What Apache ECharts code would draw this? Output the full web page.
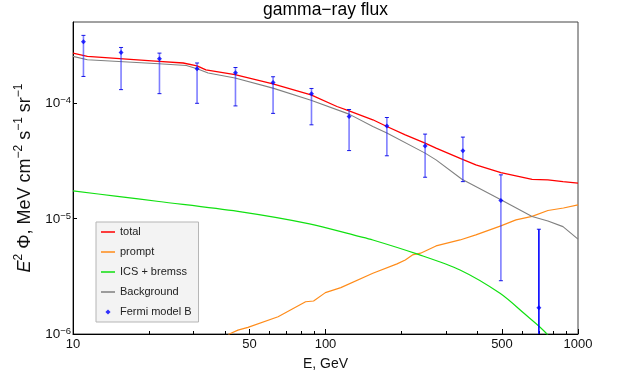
<!DOCTYPE html>
<html>
<head>
<meta charset="utf-8">
<script src="https://cdn.jsdelivr.net/npm/echarts@6/dist/echarts.min.js"></script>
<style>html,body{margin:0;padding:0;background:#fff}#c{width:622px;height:383px}</style>
</head>
<body>
<div id="c"></div>
<script>
// ---- data ----
const xLabelValues = [10, 50, 100, 500, 1000];
const xMinorTicks = [20, 30, 40, 60, 70, 80, 90, 200, 300, 400, 600, 700, 800, 900];
const yLabelValues = [1e-6, 1e-5, 1e-4];

const totalE = [10, 11.4, 21.9, 27.3, 31, 33.6, 43.8, 61.9, 87.6, 111, 124, 154, 175, 207, 248, 274, 347, 394, 495, 658, 760, 872, 1000];
const totalV = [2.69e-4, 2.52e-4, 2.28e-4, 2.21e-4, 2.09e-4, 1.93e-4, 1.75e-4, 1.46e-4, 1.17e-4, 9.29e-5, 8.53e-5, 7.13e-5, 6.24e-5, 5.28e-5, 4.48e-5, 4.05e-5, 3.26e-5, 2.90e-5, 2.49e-5, 2.18e-5, 2.15e-5, 2.08e-5, 2.02e-5];

const promptE = [40, 41.6, 45, 49.3, 64.9, 83.4, 89.7, 99.9, 115, 154, 192, 207, 221, 238, 274, 341, 394, 495, 568, 658, 760, 876, 1000];
const promptV = [9e-7, 1.0e-6, 1.08e-6, 1.14e-6, 1.41e-6, 1.90e-6, 1.93e-6, 2.28e-6, 2.52e-6, 3.35e-6, 4.04e-6, 4.37e-6, 4.83e-6, 5.00e-6, 5.78e-6, 6.51e-6, 7.20e-6, 8.61e-6, 9.70e-6, 1.04e-5, 1.17e-5, 1.23e-5, 1.31e-5];

const icsE = [10, 15, 21.9, 45, 86.4, 133, 154, 230, 341, 491, 611, 753, 850, 1000];
const icsV = [1.73e-5, 1.55e-5, 1.40e-5, 1.15e-5, 8.97e-6, 7.06e-6, 6.51e-6, 4.93e-6, 3.58e-6, 2.25e-6, 1.51e-6, 1.0e-6, 6.5e-7, 2.5e-7];

const bgE = [10, 11.4, 21.9, 28.1, 31, 34.3, 43.8, 61.9, 87.6, 124, 154, 175, 248, 274, 347, 495, 658, 760, 872, 1000];
const bgV = [2.52e-4, 2.36e-4, 2.18e-4, 2.10e-4, 1.97e-4, 1.81e-4, 1.64e-4, 1.34e-4, 1.05e-4, 7.98e-5, 6.24e-5, 5.47e-5, 3.67e-5, 3.21e-5, 2.18e-5, 1.45e-5, 1.04e-5, 9.5e-6, 8.49e-6, 6.61e-6];

const fermiE  = [11, 15.5, 22, 31, 44, 62, 88, 124, 175, 248, 350, 495, 700];
const fermiV  = [3.37e-4, 2.73e-4, 2.40e-4, 1.97e-4, 1.82e-4, 1.50e-4, 1.20e-4, 7.6e-5, 6.3e-5, 4.24e-5, 3.84e-5, 1.43e-5, 1.69e-6];
const fermiHi = [3.83e-4, 3.01e-4, 2.69e-4, 2.21e-4, 2.02e-4, 1.68e-4, 1.33e-4, 8.75e-5, 7.46e-5, 5.36e-5, 5.05e-5, 2.38e-5, 8.06e-6];
const fermiLo = [1.69e-4, 1.30e-4, 1.20e-4, 9.9e-5, 9.4e-5, 8.1e-5, 6.45e-5, 3.86e-5, 3.48e-5, 2.27e-5, 2.08e-5, 2.89e-6, 1e-7];

const Y_MIN = 1e-6, Y_MAX = 5e-4;
// ---- chart ----
const FONT = 'Liberation Sans, Arial, sans-serif';
const LINE_ICON = 'path://M0,0H14V0.01H0ZM0,2.35H14V3.65H0ZM0,5.99H14V6H0Z';
const DIAMOND_ICON = 'path://M0,0H0.01V0.01H0ZM13.99,5.99H14V6H13.99ZM7,0.4L9.6,3L7,5.6L4.4,3Z';
const zip = (a, b) => a.map((v, i) => [v, b[i]]);
const chart = echarts.init(document.getElementById('c'), null, {renderer: 'canvas'});

function lineSeries(name, E, V, color, w, smooth) {
  return {
    name, type: 'line', data: zip(E, V), symbol: 'none', showSymbol: false, smooth: smooth || false,
    clip: true, lineStyle: {color, width: w}, itemStyle: {color}, silent: true, z: 2
  };
}

const option = {
  animation: false,
  backgroundColor: '#fff',
  textStyle: {fontFamily: FONT},
  title: {
    text: 'gamma\u2212ray flux', left: 325.5, textAlign: 'center', top: 1, padding: 0,
    textStyle: {fontSize: 17.5, fontWeight: 'normal', color: '#000', fontFamily: FONT}
  },
  grid: {left: 73, right: 44, top: 22, bottom: 49, show: true, borderColor: '#444', borderWidth: 1, backgroundColor: 'transparent'},
  legend: {
    orient: 'vertical', left: 96, top: 222,
    padding: [3, 7, 3, 5], itemGap: 6, itemWidth: 14, itemHeight: 6,
    backgroundColor: '#f3f3f3', borderColor: '#b5b5b5', borderWidth: 1,
    textStyle: {fontSize: 11, color: '#222', fontFamily: FONT, lineHeight: 14},
    data: [
      {name: 'total', icon: LINE_ICON},
      {name: 'prompt', icon: LINE_ICON},
      {name: 'ICS + bremss', icon: LINE_ICON},
      {name: 'Background', icon: LINE_ICON},
      {name: 'Fermi model B', icon: DIAMOND_ICON}
    ]
  },
  xAxis: [{
    type: 'log', logBase: 10, min: 10, max: 1000,
    name: 'E, GeV', nameLocation: 'middle', nameGap: 23,
    nameTextStyle: {fontSize: 14, color: '#111', fontFamily: FONT},
    axisLine: {show: true, lineStyle: {color: '#000', width: 1}},
    axisTick: {inside: true, length: 5, lineStyle: {color: '#000'}, customValues: xLabelValues},
    axisLabel: {customValues: xLabelValues, fontSize: 13, color: '#111', margin: 4, fontFamily: FONT,
      formatter: v => String(Math.round(v))},
    splitLine: {show: false}, minorTick: {show: false}
  }, {
    type: 'log', logBase: 10, min: 10, max: 1000, position: 'bottom',
    axisLine: {show: false},
    axisTick: {inside: true, length: 3, lineStyle: {color: '#000'}, customValues: xMinorTicks},
    axisLabel: {show: false}, splitLine: {show: false}
  }],
  yAxis: {
    type: 'log', logBase: 10, min: Y_MIN, max: Y_MAX,
    name: '{i|E}{s|2}{n| \u03A6, MeV cm}{s|\u22122}{n| s}{s|\u22121}{n| sr}{s|\u22121}',
    nameLocation: 'middle', nameGap: 31,
    nameTextStyle: {
      color: '#111', fontFamily: FONT,
      rich: {
        n: {fontSize: 18, lineHeight: 22, verticalAlign: 'bottom', color: '#111', fontFamily: FONT},
        i: {fontSize: 18, lineHeight: 22, verticalAlign: 'bottom', fontStyle: 'italic', color: '#111', fontFamily: FONT},
        s: {fontSize: 12, lineHeight: 13, verticalAlign: 'top', color: '#111', fontFamily: FONT}
      }
    },
    axisLine: {show: true, lineStyle: {color: '#000', width: 1}},
    axisTick: {inside: true, length: 4, lineStyle: {color: '#000'}, customValues: yLabelValues},
    axisLabel: {
      customValues: yLabelValues, margin: 2, color: '#111',
      formatter: v => '{b|10}{s|\u2212' + Math.round(-Math.log10(v)) + '}',
      rich: {
        b: {fontSize: 13.5, lineHeight: 15, verticalAlign: 'bottom', color: '#111', fontFamily: FONT},
        s: {fontSize: 9.5, lineHeight: 10, verticalAlign: 'top', color: '#111', fontFamily: FONT}
      }
    },
    splitLine: {show: false}, minorTick: {show: false}
  },
  series: [
    lineSeries('total', totalE, totalV, '#ff0000', 1.3),
    lineSeries('prompt', promptE, promptV, '#ff8c1a', 1.2),
    lineSeries('ICS + bremss', icsE, icsV, '#11e011', 1.2, 0.3),
    lineSeries('Background', bgE, bgV, '#808080', 1.1),
    {
      type: 'custom', name: 'errbars', silent: true, z: 3,
      data: fermiE.map((e, i) => [e, fermiLo[i], fermiHi[i]]),
      encode: {x: 0, y: [1, 2]},
      renderItem: function (params, api) {
        const x = api.value(0);
        const lo = api.value(1), hi = api.value(2);
        const clipped = lo < Y_MIN;
        const pTop = api.coord([x, hi]);
        const pBot = api.coord([x, clipped ? Y_MIN : lo]);
        const last = params.dataIndex === fermiE.length - 1;
        const barColor = last ? 'rgba(0,0,255,1)' : 'rgba(40,40,255,0.6)';
        const capColor = 'rgba(0,0,230,0.9)';
        const children = [
          {type: 'line', shape: {x1: pTop[0], y1: pTop[1], x2: pBot[0], y2: pBot[1]}, style: {stroke: barColor, lineWidth: 1.6}},
          {type: 'line', shape: {x1: pTop[0] - 2, y1: pTop[1], x2: pTop[0] + 2, y2: pTop[1]}, style: {stroke: capColor, lineWidth: 1}}
        ];
        if (!clipped) children.push({type: 'line', shape: {x1: pBot[0] - 2, y1: pBot[1], x2: pBot[0] + 2, y2: pBot[1]}, style: {stroke: capColor, lineWidth: 1}});
        return {type: 'group', children};
      }
    },
    {
      name: 'Fermi model B', type: 'scatter', data: zip(fermiE, fermiV),
      symbol: 'diamond', symbolSize: 5, itemStyle: {color: '#0000ff'}, z: 4, silent: true
    }
  ]
};
chart.setOption(option);
</script>
</body>
</html>
